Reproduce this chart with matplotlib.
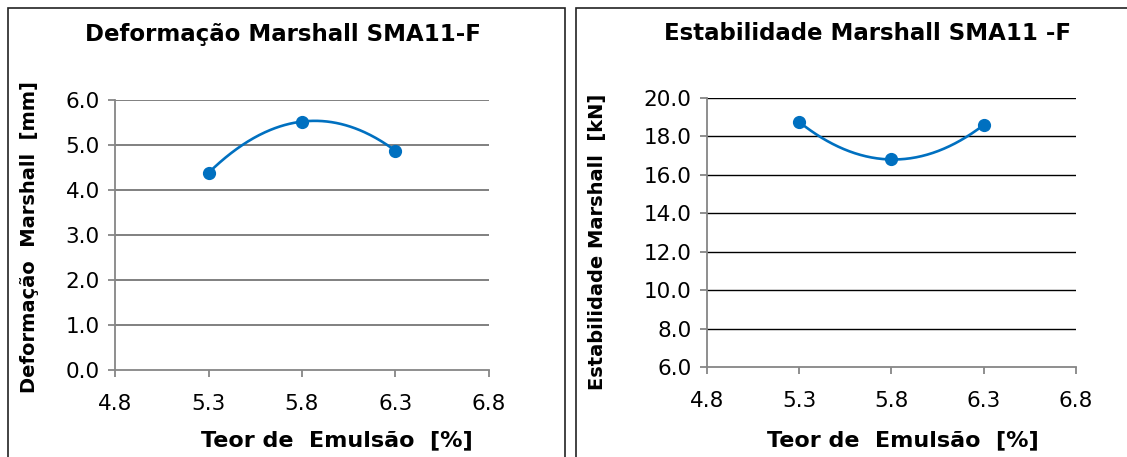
import numpy as np
import matplotlib
matplotlib.use("Agg")
import matplotlib.pyplot as plt
from matplotlib.patches import Rectangle

plt.rcParams['font.family'] = ['DejaVu Sans']

# Emulsion content (%) and Marshall test results
teor = [5.3, 5.8, 6.3]
deformacao = [4.38, 5.52, 4.87]      # mm
estabilidade = [18.75, 16.8, 18.6]   # kN

x_ticks = [4.8, 5.3, 5.8, 6.3, 6.8]
def_ticks = [0.0, 1.0, 2.0, 3.0, 4.0, 5.0, 6.0]
est_ticks = [6.0, 8.0, 10.0, 12.0, 14.0, 16.0, 18.0, 20.0]

W, H = 1127, 457
fig = plt.figure(figsize=(W / 100, H / 100), dpi=100)
fig.patch.set_facecolor('white')

BLUE = '#0070C0'
AXIS_GRAY = '#868686'


def px(x, y):
    return x / W, 1 - y / H


# panel frames
for x0, x1 in [(8, 565), (576, 1135)]:
    fig.patches.append(Rectangle(px(x0, 470), (x1 - x0) / W, (470 - 8) / H,
                                 transform=fig.transFigure, fill=False,
                                 edgecolor='#222222', linewidth=1.2))


def panel(rect, y, ticks, grid_color, grid_lw):
    ax = fig.add_axes(rect)
    xs = np.linspace(teor[0], teor[-1], 200)
    coef = np.polyfit(teor, y, 2)
    ax.plot(xs, np.polyval(coef, xs), color=BLUE, lw=1.9, zorder=3)
    ax.plot(teor, y, 'o', color=BLUE, ms=8.5, zorder=4)
    ax.set_xlim(x_ticks[0], x_ticks[-1])
    ax.set_ylim(ticks[0], ticks[-1])
    ax.set_xticks(x_ticks)
    ax.set_xticklabels([f'{t:.1f}' for t in x_ticks])
    ax.set_yticks(ticks)
    ax.set_yticklabels([f'{t:.1f}' for t in ticks])
    for t in ticks[1:]:
        ax.axhline(t, color=grid_color, lw=grid_lw, zorder=1)
    for s in ['top', 'right']:
        ax.spines[s].set_visible(False)
    for s in ['left', 'bottom']:
        ax.spines[s].set_color(AXIS_GRAY)
        ax.spines[s].set_linewidth(1.3)
    ax.tick_params(axis='both', direction='out', length=5, width=1.3,
                   color=AXIS_GRAY, labelsize=15.5, labelcolor='black', pad=6)
    ax.tick_params(axis='x', pad=12)
    return ax


ax1 = panel([115 / W, 1 - 370 / H, (489 - 115) / W, 270 / H],
            deformacao, def_ticks, '#808080', 1.4)
ax2 = panel([707 / W, 1 - 367 / H, (1076 - 707) / W, 269 / H],
            estabilidade, est_ticks, '#000000', 1.0)

kw = dict(fontsize=16.5, fontweight='bold', ha='center', va='center')
fig.text(*px(283, 34), 'Deformação Marshall SMA11-F', **kw)
fig.text(*px(868, 34), 'Estabilidade Marshall SMA11 -F', **kw)

kx = dict(fontsize=16, fontweight='bold', ha='center', va='center')
fig.text(*px(337, 440), 'Teor de  Emulsão  [%]', **kx)
fig.text(*px(903, 440), 'Teor de  Emulsão  [%]', **kx)
ky = dict(fontsize=14, fontweight='bold', ha='center', va='center', rotation=90)
fig.text(*px(30, 237), 'Deformação  Marshall  [mm]', **ky)
fig.text(*px(597, 242), 'Estabilidade Marshall  [kN]', **ky)

fig.savefig('out.png', dpi=100, facecolor='white')
